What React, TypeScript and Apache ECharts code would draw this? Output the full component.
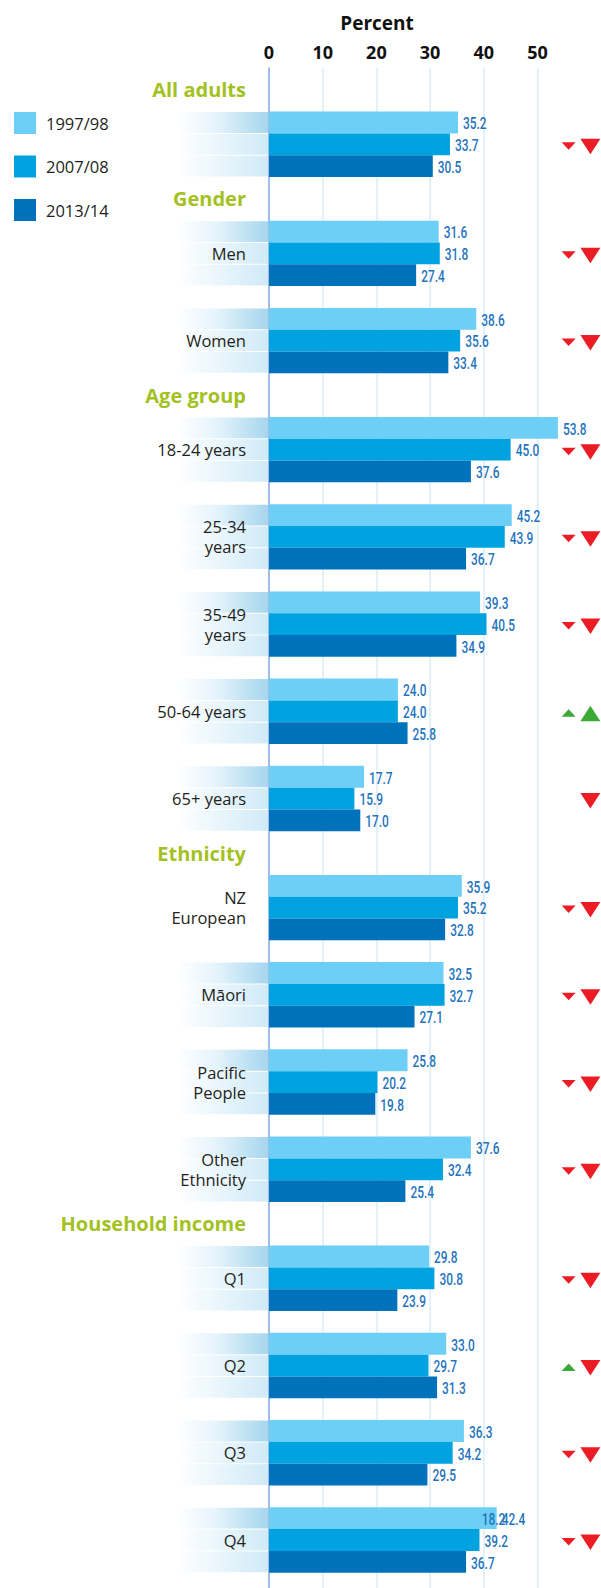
import React, { useEffect, useRef } from 'react';
import * as echarts from 'echarts';

// ---------- data ----------
const periods = ['1997/98', '2007/08', '2013/14'];
const groupLabels = [
  '', 'Men', 'Women',
  '18-24 years', '25-34\nyears', '35-49\nyears', '50-64 years', '65+ years',
  'NZ\nEuropean', 'Māori', 'Pacific\nPeople', 'Other\nEthnicity',
  'Q1', 'Q2', 'Q3', 'Q4',
];
const sectionHeaders = ['All adults', 'Gender', 'Age group', 'Ethnicity', 'Household income'];
const sectionFirstGroup = [0, 1, 3, 8, 12];
const values1997 = [35.2, 31.6, 38.6, 53.8, 45.2, 39.3, 24.0, 17.7, 35.9, 32.5, 25.8, 37.6, 29.8, 33.0, 36.3, 42.4];
const values2007 = [33.7, 31.8, 35.6, 45.0, 43.9, 40.5, 24.0, 15.9, 35.2, 32.7, 20.2, 32.4, 30.8, 29.7, 34.2, 39.2];
const values2013 = [30.5, 27.4, 33.4, 37.6, 36.7, 34.9, 25.8, 17.0, 32.8, 27.1, 19.8, 25.4, 23.9, 31.3, 29.5, 36.7];
const trendSmall = ['down', 'down', 'down', 'down', 'down', 'down', 'up', null, 'down', 'down', 'down', 'down', 'down', 'up', 'down', 'down'];
const trendLarge = ['down', 'down', 'down', 'down', 'down', 'down', 'up', 'down', 'down', 'down', 'down', 'down', 'down', 'down', 'down', 'down'];
const hasBand = [true, true, true, true, true, true, true, true, false, true, true, true, true, true, true, true];
const xTicks = [0, 10, 20, 30, 40, 50];

// ---------- styles ----------
const barColors = ['#6dcff6', '#00a3e0', '#0072bc'];
const SANS = "'Open Sans', 'Noto Sans', sans-serif";
const NARROW = "Roboto, 'Noto Sans', sans-serif";
const headerColor = '#a3c11f';
const valueColor = '#1f74bd';
const red = '#ec1c24';
const green = '#3aaa35';

// stray overlapping label present in the source image (Q4, first bar)
const strayLabel = { group: 15, bar: 0, text: '18.2', x: 39.6 };

// ---------- layout rows (computed) ----------
const groupStart: number[] = [];
const headerRow: number[] = [];
(() => {
  let cursor = 0;
  for (let g = 0; g < groupLabels.length; g++) {
    const s = sectionFirstGroup.indexOf(g);
    if (s >= 0) {
      if (g > 0) cursor += 1;
      headerRow.push(cursor - 1);
    }
    groupStart.push(cursor);
    cursor += 4;
  }
})();

const seriesValues = [values1997, values2007, values2013];

const narrowText = (text: string, x: number, y: number, z2: number) => ({
  type: 'text',
  x,
  y,
  scaleX: 0.7,
  z2,
  style: {
    text, x: 0, y: 0, fill: valueColor,
    fontSize: 17, fontWeight: 500, fontFamily: NARROW, align: 'left', verticalAlign: 'middle',
  },
});

export default function App() {
  const ref = useRef<HTMLDivElement>(null);
  useEffect(() => {
    const chart = echarts.init(ref.current!, null, { renderer: 'svg' });

    const barSeries = seriesValues.map((vals, k) => ({
      type: 'custom',
      name: periods[k],
      silent: true,
      z: 3,
      itemStyle: { color: barColors[k] },
      encode: { x: 0, y: 1 },
      data: vals.map((v, g) => [v, groupStart[g] + k, g]),
      renderItem: (params: any, api: any) => {
        const v = api.value(0);
        const r = api.value(1);
        const g = api.value(2);
        const p0 = api.coord([0, r]);
        const p1 = api.coord([v, r + 1]);
        const cy = (p0[1] + p1[1]) / 2;
        const children: any[] = [
          {
            type: 'rect',
            shape: { x: p0[0], y: p0[1], width: p1[0] - p0[0], height: p1[1] - p0[1] },
            style: { fill: barColors[k] },
          },
        ];
        if (g === strayLabel.group && k === strayLabel.bar) {
          const ps = api.coord([strayLabel.x, r]);
          children.push(narrowText(strayLabel.text, ps[0], cy + 1, 5));
        }
        children.push(narrowText(v.toFixed(1), p1[0] + 5, cy + 1, 6));
        return { type: 'group', children };
      },
    }));

    const bandSeries = {
      type: 'custom',
      name: 'bands',
      silent: true,
      z: 1,
      encode: { x: 0, y: 1 },
      data: groupLabels.map((_, g) => [0, groupStart[g], g]),
      renderItem: (params: any, api: any) => {
        const r = api.value(1);
        const g = api.value(2);
        const children: any[] = [];
        const xA = api.coord([0, r])[0];
        const xL = api.coord([-17.2, r])[0];
        if (hasBand[g]) {
          for (let k = 0; k < 3; k++) {
            const y0 = api.coord([0, r + k])[1];
            const y1 = api.coord([0, r + k + 1])[1];
            const stops = k === 0
              ? [
                  { offset: 0, color: 'rgba(255,255,255,1)' },
                  { offset: 0.45, color: '#e4f3fb' },
                  { offset: 1, color: '#a6d6ee' },
                ]
              : [
                  { offset: 0, color: 'rgba(255,255,255,1)' },
                  { offset: 0.45, color: '#eaf6fc' },
                  { offset: 1, color: '#d0eaf7' },
                ];
            children.push({
              type: 'rect',
              shape: { x: xL, y: y0 + 0.5, width: xA - xL - 1, height: y1 - y0 - 1 },
              style: { fill: new echarts.graphic.LinearGradient(0, 0, 1, 0, stops) },
            });
          }
        }
        const cy = api.coord([0, r + 1.5])[1];
        children.push({
          type: 'text',
          style: {
            text: groupLabels[g], x: xA - 23, y: cy, fill: '#231f20',
            fontSize: 16.5, fontFamily: SANS, align: 'right', verticalAlign: 'middle',
            lineHeight: 20,
          },
        });
        // trend triangles
        const tri = (dir: string | null, xVal: number, w: number, top: number, bottom: number) => {
          if (!dir) return;
          const cx = api.coord([xVal, r])[0];
          const color = dir === 'up' ? green : red;
          const pts = dir === 'up'
            ? [[cx - w / 2, cy + bottom], [cx + w / 2, cy + bottom], [cx, cy + top]]
            : [[cx - w / 2, cy + top], [cx + w / 2, cy + top], [cx, cy + bottom]];
          children.push({ type: 'polygon', shape: { points: pts }, style: { fill: color } });
        };
        tri(trendSmall[g], 55.8, 14, -2, 5.5);
        tri(trendLarge[g], 59.85, 20, -5.5, 10);
        return { type: 'group', children };
      },
    };

    const headerSeries = {
      type: 'custom',
      name: 'headers',
      silent: true,
      z: 2,
      encode: { x: 0, y: 1 },
      data: sectionHeaders.map((_, s) => [0, headerRow[s], s]),
      renderItem: (params: any, api: any) => {
        const r = api.value(1);
        const s = api.value(2);
        const p = api.coord([0, r]);
        return {
          type: 'text',
          style: {
            text: sectionHeaders[s], x: p[0] - 23, y: p[1], fill: headerColor,
            fontSize: 20, fontWeight: 'bold', fontFamily: SANS, align: 'right', verticalAlign: 'middle',
          },
        };
      },
    };

    const option: any = {
      animation: false,
      backgroundColor: '#ffffff',
      grid: { left: 269, right: 63.5, top: 68, bottom: 0, containLabel: false },
      xAxis: {
        type: 'value',
        position: 'top',
        min: xTicks[0],
        max: xTicks[xTicks.length - 1],
        interval: 10,
        axisLine: { show: false },
        axisTick: { show: false },
        axisLabel: {
          show: true, margin: 7, color: '#111111', fontSize: 18, fontWeight: 'bold', fontFamily: SANS,
        },
        splitLine: { show: true, lineStyle: { color: '#d8ecf8', width: 1.5 } },
      },
      yAxis: {
        type: 'value',
        inverse: true,
        min: -2,
        max: 67.7,
        axisLine: { show: true, onZero: false, lineStyle: { color: '#89abdf', width: 1.5 } },
        axisTick: { show: false },
        axisLabel: { show: false },
        splitLine: { show: false },
      },
      legend: {
        data: periods,
        orient: 'vertical',
        left: 14,
        top: 112,
        itemWidth: 22,
        itemHeight: 22,
        itemGap: 21.5,
        icon: 'rect',
        selectedMode: false,
        padding: 0,
        textStyle: { fontSize: 16.5, color: '#231f20', fontFamily: SANS, padding: [0, 0, 0, 5] },
      },
      graphic: [
        {
          type: 'text',
          x: 377,
          y: 23,
          style: {
            text: 'Percent', fill: '#111111', fontSize: 19, fontWeight: 'bold', fontFamily: SANS,
            align: 'center', verticalAlign: 'middle',
          },
        },
      ],
      series: [bandSeries, headerSeries, ...barSeries],
    };
    chart.setOption(option);
    return () => chart.dispose();
  }, []);
  return (
    <div
      ref={ref}
      style={{ position: 'absolute', left: 0, top: 0, width: 601, height: 1588, background: '#fff' }}
    />
  );
}
